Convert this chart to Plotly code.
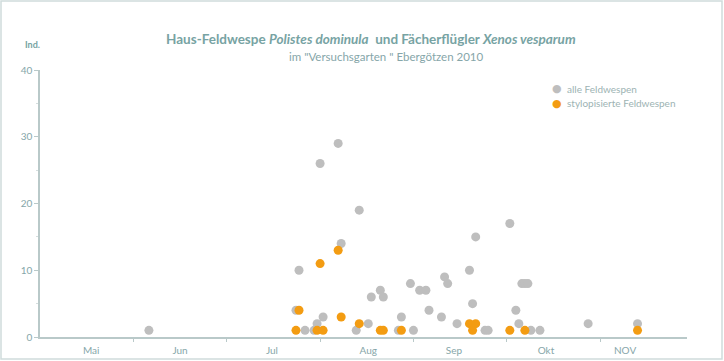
import plotly.graph_objects as go
import calendar

# ---- data ----
all_dates = ["2010-06-06", "2010-07-24", "2010-07-25", "2010-07-27", "2010-07-30", "2010-07-31",
             "2010-08-01", "2010-08-02", "2010-08-07", "2010-08-08", "2010-08-13", "2010-08-14",
             "2010-08-17", "2010-08-18", "2010-08-21", "2010-08-22", "2010-08-27", "2010-08-28",
             "2010-08-31", "2010-09-01", "2010-09-03", "2010-09-05", "2010-09-06", "2010-09-10",
             "2010-09-11", "2010-09-12", "2010-09-15", "2010-09-19", "2010-09-20", "2010-09-21",
             "2010-09-24", "2010-09-25", "2010-10-02", "2010-10-04", "2010-10-05", "2010-10-06",
             "2010-10-07", "2010-10-08", "2010-10-09", "2010-10-12", "2010-10-28", "2010-11-13"]
all_values = [1, 4, 10, 1, 1, 2,
              26, 3, 29, 14, 1, 19,
              2, 6, 7, 6, 1, 3,
              8, 1, 7, 7, 4, 3,
              9, 8, 2, 10, 5, 15,
              1, 1, 17, 4, 2, 8,
              8, 8, 1, 1, 2, 2]

styl_dates = ["2010-07-24", "2010-07-25", "2010-07-31", "2010-08-01", "2010-08-02", "2010-08-07",
              "2010-08-08", "2010-08-14", "2010-08-21", "2010-08-22", "2010-08-28", "2010-09-19",
              "2010-09-20", "2010-09-21", "2010-10-02", "2010-10-07", "2010-11-13"]
styl_values = [1, 4, 1, 11, 1, 13,
               3, 2, 1, 1, 1, 2,
               1, 2, 1, 1, 1]

series_names = ["alle Feldwespen", "stylopisierte Feldwespen"]
month_labels = ["Mai", "Jun", "Jul", "Aug", "Sep", "Okt", "NOV"]
month_label_dates = ["2010-05-18", "2010-06-16", "2010-07-16", "2010-08-17", "2010-09-14",
                     "2010-10-14", "2010-11-09"]
y_ticks = [0, 10, 20, 30, 40]


def month_pos(d):
    y, m, day = (int(p) for p in d.split("-"))
    return (m - 5) + (day - 1) / calendar.monthrange(y, m)[1]


gray = "#BEBEBE"
orange = "#F39C12"
teal = "#77A3A3"
text_col = "#86A6A9"
legend_col = "#9DB3B3"
axis_col = "#B9C9C9"
font = "Lato"

fig = go.Figure()
fig.add_trace(go.Scatter(x=[month_pos(d) for d in all_dates], y=all_values, mode="markers",
                         name=series_names[0],
                         marker=dict(color=gray, size=9, line=dict(width=0))))
fig.add_trace(go.Scatter(x=[month_pos(d) for d in styl_dates], y=styl_values, mode="markers",
                         name=series_names[1],
                         marker=dict(color=orange, size=9, line=dict(width=0))))

L, R, T, B = 40, 37, 70, 24
W, H = 724, 361
pw, ph = W - L - R, H - T - B


def px(xp):
    return (xp - L) / pw


def py(yp):
    return (H - B - yp) / ph


annotations = [
    dict(text="<b>Haus-Feldwespe <i>Polistes dominula</i>  und Fächerflügler <i>Xenos vesparum</i></b>",
         xref="paper", yref="paper", x=px(371), y=py(39),
         xanchor="center", yanchor="middle", showarrow=False,
         font=dict(size=13.5, color=teal, family=font)),
    dict(text="im \"Versuchsgarten \" Ebergötzen 2010",
         xref="paper", yref="paper", x=px(387), y=py(56),
         xanchor="center", yanchor="middle", showarrow=False,
         font=dict(size=11.5, color=text_col, family=font)),
    dict(text="<b>Ind.</b>", xref="paper", yref="paper", x=px(32), y=py(44),
         xanchor="center", yanchor="middle", showarrow=False,
         font=dict(size=9, color=teal, family=font)),
]
for i, (name, col) in enumerate(zip(series_names, [gray, orange])):
    yy = 89 + 14 * i
    annotations.append(dict(text="●", xref="paper", yref="paper", x=px(557), y=py(yy),
                            xanchor="center", yanchor="middle", showarrow=False,
                            font=dict(size=11, color=col, family="DejaVu Sans")))
    annotations.append(dict(text=name, xref="paper", yref="paper", x=px(565), y=py(yy),
                            xanchor="left", yanchor="middle", showarrow=False,
                            font=dict(size=10, color=legend_col, family=font)))

fig.update_layout(
    width=W, height=H,
    margin=dict(l=L, r=R, t=T, b=B, autoexpand=False),
    paper_bgcolor="white", plot_bgcolor="white",
    font=dict(family=font, color=text_col, size=10),
    showlegend=False,
    xaxis=dict(range=[0, 6.93], showgrid=False, zeroline=False, automargin=False,
               showline=True, linecolor=axis_col, linewidth=1.5,
               tickvals=[month_pos(d) for d in month_label_dates], ticktext=month_labels,
               ticks="outside", ticklen=3, tickcolor="rgba(0,0,0,0)",
               tickfont=dict(size=10, color=text_col),
               minor=dict(tickvals=[1, 2, 3, 4, 5, 6], ticks="outside", ticklen=3,
                          tickcolor=axis_col, showgrid=False)),
    yaxis=dict(range=[0, 40], showgrid=False, zeroline=False, automargin=False,
               showline=True, linecolor=axis_col, linewidth=1.5,
               tickvals=y_ticks, ticks="outside", ticklen=4, tickcolor=axis_col,
               tickfont=dict(size=10, color=text_col),
               minor=dict(dtick=5, ticks="outside", ticklen=2, tickcolor="#D5DEDE", showgrid=False)),
    annotations=annotations,
    shapes=[dict(type="rect", xref="paper", yref="paper",
                 x0=px(1), x1=px(722), y0=py(359), y1=py(1),
                 line=dict(color="#CFDCDC", width=1.5), layer="below")],
)

fig.write_html("out.html", config={"displayModeBar": False},
               post_script="document.body.style.margin='0';")
